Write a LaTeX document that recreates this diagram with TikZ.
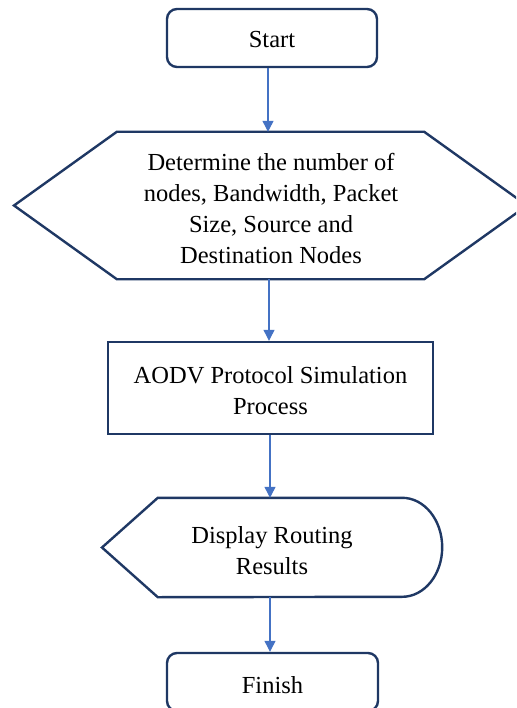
\documentclass[tikz,border=0pt]{standalone}
\usepackage{fontspec}
\setmainfont{Liberation Serif}
\usetikzlibrary{arrows.meta}
\definecolor{navy}{HTML}{1F3864}
\definecolor{flowblue}{HTML}{4472C4}
\tikzset{
  outline/.style={draw=navy, line width=2.4pt, line join=miter},
  frame/.style={rectangle, inner sep=0pt},
  label/.style={align=center, font=\fontsize{24.5}{31}\selectfont, text=black},
  arr/.style={draw=flowblue, line width=1.2pt, -{Triangle[width=11pt,length=11pt]}}
}
\begin{document}
\begin{tikzpicture}[x=1pt, y=-1pt]
  \clip (0,0) rectangle (516,708);
  \fill[white] (0,0) rectangle (516,708);

  % Start terminator
  \node[frame, minimum width=210pt, minimum height=58pt, outline, rounded corners=10pt] (start) at (272,38) {};
  \node[label] at (272,40) {Start};

  % Preparation hexagon
  \node[frame, minimum width=307pt, minimum height=147pt] (params) at (270.5,205.5) {};
  \draw[outline] (params.north west) -- (params.north east) -- (527,205.5)
     -- (params.south east) -- (params.south west) -- (14,205.5) -- cycle;
  \node[label] at (271,208) {Determine the number of\\nodes, Bandwidth, Packet\\Size, Source and\\Destination Nodes};

  % Process box
  \node[frame, minimum width=325pt, minimum height=92pt, outline] (sim) at (270.5,388) {};
  \node[label] at (270.5,391) {AODV Protocol Simulation\\Process};

  % Display shape with a curved right end
  \node[frame, minimum width=244pt, minimum height=99pt] (show) at (280,547.5) {};
  \draw[outline] (show.north west) -- (show.north east)
     arc[start angle=90, end angle=-90, x radius=40pt, y radius=49.5pt]
     -- (show.south west) -- (102,547.5) -- cycle;
  \node[label] at (272,551) {Display Routing\\Results};

  % Finish terminator
  \node[frame, minimum width=211pt, minimum height=58pt, outline, rounded corners=10pt] (finish) at (272.5,682) {};
  \node[label] at (272.5,685) {Finish};

  % Connectors
  \draw[arr] (start.south -| 268,0) -- (params.north -| 268,0);
  \draw[arr] (params.south -| 269,0) -- (sim.north -| 269,0);
  \draw[arr] (sim.south -| 270,0) -- (show.north -| 270,0);
  \draw[arr] (show.south -| 270,0) -- (finish.north -| 270,0);
\end{tikzpicture}
\end{document}
